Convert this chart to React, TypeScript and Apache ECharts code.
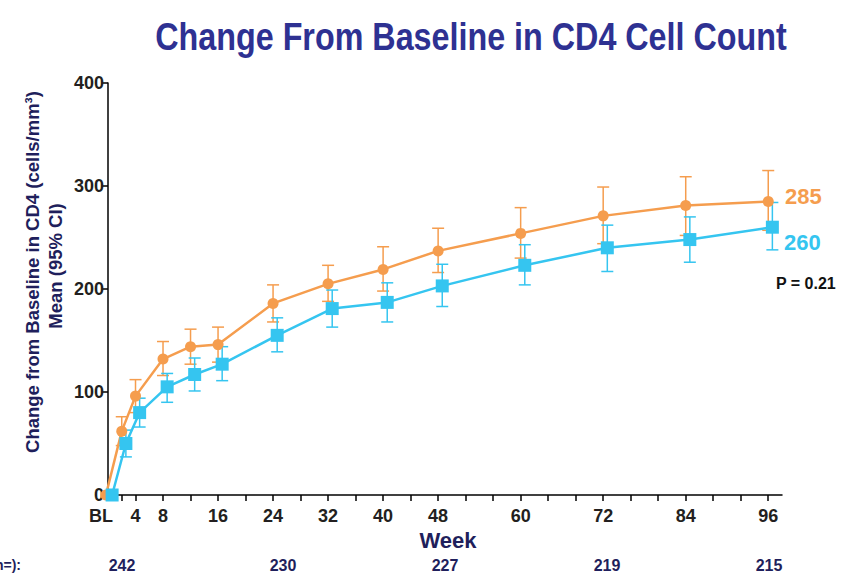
import React, { useEffect, useRef } from "react";
import * as echarts from "echarts";

// ---- data ----
const weeks = [0, 2, 4, 8, 12, 16, 24, 32, 40, 48, 60, 72, 84, 96];
const orangeMean = [0, 62, 96, 132, 144, 146, 186, 205, 219, 237, 254, 271, 281, 285];
const orangeLow = [0, 48, 80, 116, 127, 129, 168, 188, 198, 216, 230, 244, 252, 257];
const orangeHigh = [0, 76, 112, 149, 161, 163, 204, 223, 241, 259, 279, 299, 309, 315];
const blueMean = [0, 50, 80, 105, 117, 127, 155, 181, 187, 203, 223, 240, 248, 260];
const blueLow = [0, 37, 66, 90, 101, 111, 139, 163, 168, 183, 204, 217, 226, 238];
const blueHigh = [0, 63, 94, 118, 133, 144, 172, 199, 206, 224, 243, 262, 270, 284];
const xLabelValues = [0, 4, 8, 16, 24, 32, 40, 48, 60, 72, 84, 96];
const xTickValues = [2, 4, 8, 12, 16, 20, 24, 28, 32, 36, 40, 44, 48, 52, 56, 60, 64, 68, 72, 76, 80, 84, 88, 92, 96];
const nLabels = ["242", "230", "227", "219", "215"];
const nPositions = [122, 283, 445, 607, 769];

const ORANGE = "#F59D4E";
const BLUE = "#35C5F0";
const NAVY = "#1F1F5C";
const DARK = "#231F20";
const FONT = "'Liberation Sans', Arial, sans-serif";
const BLUE_SHIFT = 0.6;

export default function App() {
  const ref = useRef<HTMLDivElement>(null);
  useEffect(() => {
    if (!ref.current) return;
    const chart = echarts.init(ref.current, null, { renderer: "svg" });

    const errSeries = (low: number[], high: number[], shift: number, color: string, name: string) => ({
      type: "custom",
      name,
      z: 1,
      clip: false,
      data: weeks.map((w, i) => [w + shift, low[i], high[i]]).filter((d) => d[2] > d[1]),
      encode: { x: 0, y: [1, 2] },
      renderItem: (params: any, api: any) => {
        const x = api.value(0);
        const lo = api.coord([x, api.value(1)]);
        const hi = api.coord([x, api.value(2)]);
        const w = 6;
        const style = { stroke: color, lineWidth: 1.5 };
        return {
          type: "group",
          children: [
            { type: "line", shape: { x1: lo[0], y1: lo[1], x2: hi[0], y2: hi[1] }, style },
            { type: "line", shape: { x1: hi[0] - w, y1: hi[1], x2: hi[0] + w, y2: hi[1] }, style },
            { type: "line", shape: { x1: lo[0] - w, y1: lo[1], x2: lo[0] + w, y2: lo[1] }, style },
          ],
        };
      },
    });

    chart.setOption({
      animation: false,
      textStyle: { fontFamily: FONT },
      grid: { left: 108, right: 67, top: 83, bottom: 83, containLabel: false },
      xAxis: {
        type: "value",
        min: 0,
        max: 98,
        splitLine: { show: false },
        axisLine: { show: true, lineStyle: { color: "#000", width: 1.5 } },
        axisTick: { show: true, length: 6, lineStyle: { color: "#000", width: 1.5 }, customValues: xTickValues },
        axisLabel: {
          customValues: xLabelValues,
          formatter: (v: number) => (v === 0 ? "{bl|BL}" : String(v)),
          rich: {
            bl: { fontSize: 18, fontWeight: "bold", color: DARK, fontFamily: FONT, padding: [0, 14, 0, 0] },
          },
          fontSize: 18,
          fontWeight: "bold",
          color: DARK,
          margin: 12,
          fontFamily: FONT,
        },
      },
      yAxis: {
        type: "value",
        min: 0,
        max: 400,
        interval: 100,
        splitLine: { show: false },
        axisLine: { show: true, lineStyle: { color: "#000", width: 1.5 } },
        axisTick: { show: true, length: 6, lineStyle: { color: "#000", width: 1.5 } },
        axisLabel: { fontSize: 18, fontWeight: "bold", color: DARK, margin: 4, fontFamily: FONT },
      },
      series: [
        errSeries(orangeLow, orangeHigh, 0, ORANGE, "orangeErr"),
        errSeries(blueLow, blueHigh, BLUE_SHIFT, BLUE, "blueErr"),
        {
          type: "line",
          name: "orange",
          z: 3,
          clip: false,
          data: weeks.map((w, i) => [w === 0 ? -0.3 : w, orangeMean[i]]),
          symbol: "circle",
          symbolSize: 11,
          lineStyle: { color: ORANGE, width: 2.5 },
          itemStyle: { color: ORANGE },
        },
        {
          type: "line",
          name: "blue",
          z: 4,
          clip: false,
          data: weeks.map((w, i) => [w + BLUE_SHIFT, blueMean[i]]),
          symbol: "rect",
          symbolSize: 13,
          lineStyle: { color: BLUE, width: 2.5 },
          itemStyle: { color: BLUE },
        },
      ],
      graphic: [
        {
          type: "text",
          x: 471,
          y: 37,
          scaleX: 0.85,
          style: {
            text: "Change From Baseline in CD4 Cell Count",
            font: `bold 38px ${FONT}`,
            fill: "#2E3192",
            textAlign: "center",
            textVerticalAlign: "middle",
          },
        },
        {
          type: "text",
          x: 32,
          y: 272,
          rotation: Math.PI / 2,
          style: {
            text: "Change from Baseline in CD4 (cells/mm³)",
            font: `bold 18.5px ${FONT}`,
            fill: NAVY,
            textAlign: "center",
            textVerticalAlign: "middle",
          },
        },
        {
          type: "text",
          x: 55,
          y: 266,
          rotation: Math.PI / 2,
          style: {
            text: "Mean (95% CI)",
            font: `bold 18.5px ${FONT}`,
            fill: NAVY,
            textAlign: "center",
            textVerticalAlign: "middle",
          },
        },
        {
          type: "text",
          x: 448,
          y: 540,
          style: { text: "Week", font: `bold 22px ${FONT}`, fill: NAVY, textAlign: "center", textVerticalAlign: "middle" },
        },
        {
          type: "text",
          x: 21,
          y: 565,
          style: { text: "(n=):", font: `bold 14px ${FONT}`, fill: NAVY, textAlign: "right", textVerticalAlign: "middle" },
        },
        ...nLabels.map((t, i) => ({
          type: "text",
          x: nPositions[i],
          y: 565,
          style: { text: t, font: `bold 16px ${FONT}`, fill: NAVY, textAlign: "center", textVerticalAlign: "middle" },
        })),
        {
          type: "text",
          x: 785,
          y: 196,
          style: { text: String(orangeMean[orangeMean.length - 1]), font: `bold 22px ${FONT}`, fill: ORANGE, textAlign: "left", textVerticalAlign: "middle" },
        },
        {
          type: "text",
          x: 784,
          y: 242,
          style: { text: String(blueMean[blueMean.length - 1]), font: `bold 22px ${FONT}`, fill: BLUE, textAlign: "left", textVerticalAlign: "middle" },
        },
        {
          type: "text",
          x: 776,
          y: 283,
          style: { text: "P = 0.21", font: `bold 16px ${FONT}`, fill: "#111", textAlign: "left", textVerticalAlign: "middle" },
        },
      ],
    });
    return () => chart.dispose();
  }, []);
  return <div ref={ref} style={{ width: 849, height: 578, position: "absolute", left: 0, top: 0 }} />;
}
